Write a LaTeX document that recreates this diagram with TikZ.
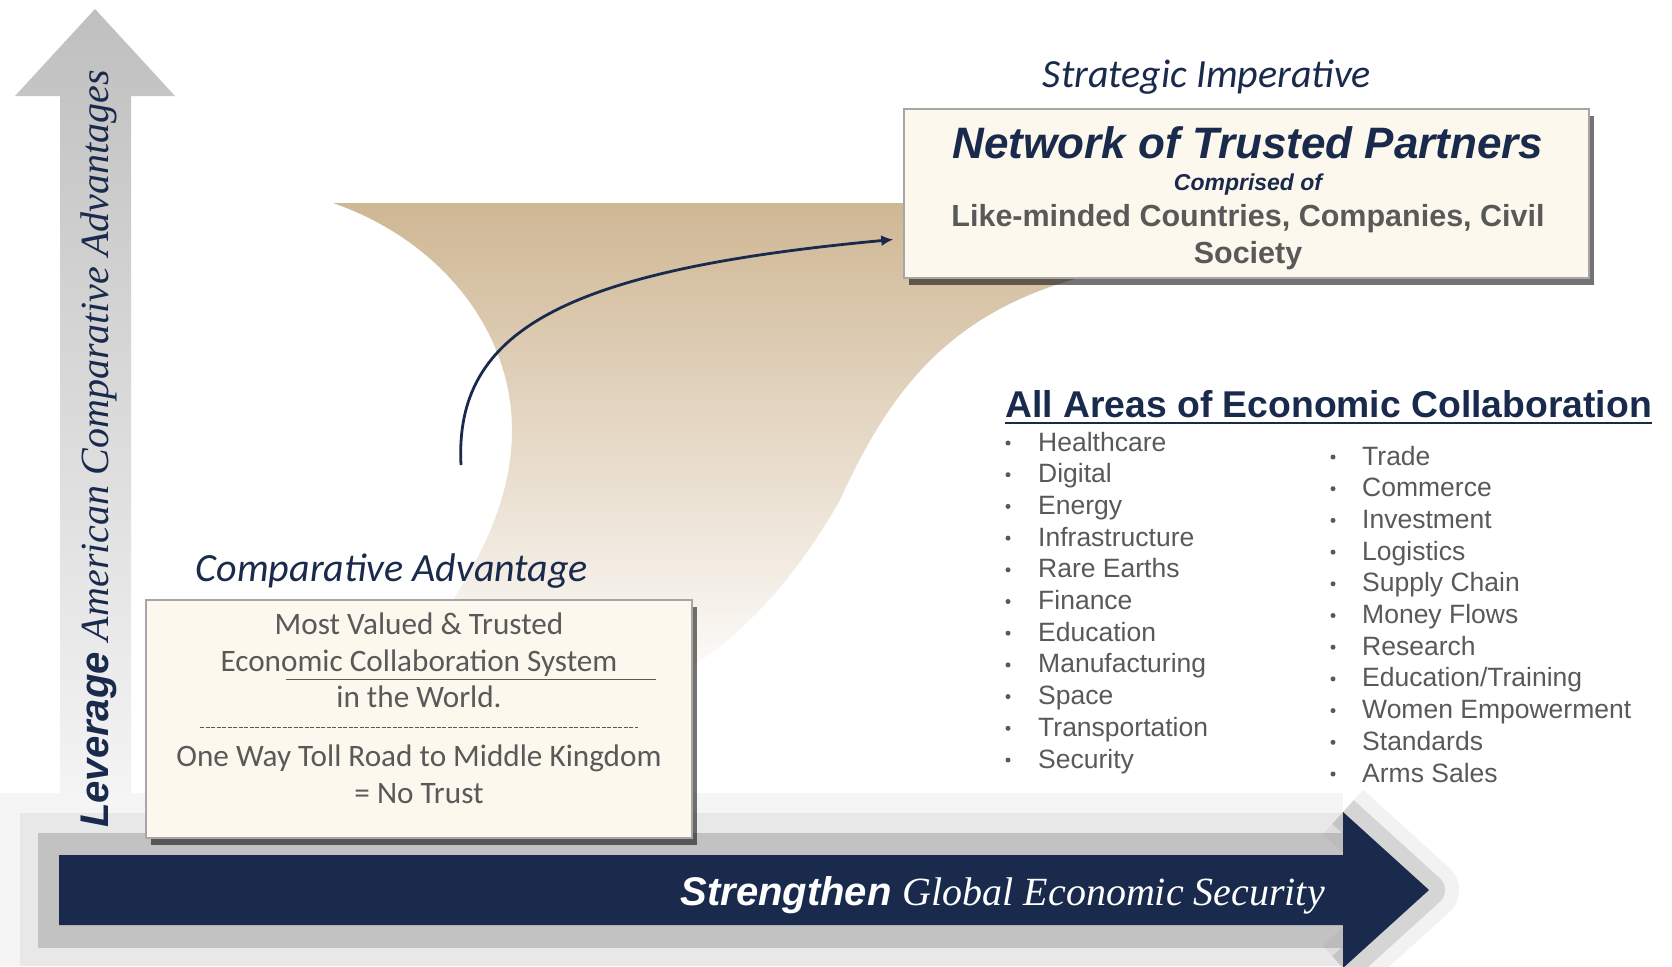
\documentclass[tikz,border=0pt]{standalone}
\usepackage{fontspec}
\setmainfont{Liberation Sans}
\newfontfamily\califont{Carlito}
\newfontfamily\timesfont{Liberation Serif}
\usetikzlibrary{arrows.meta,shadows}

\definecolor{navyblue}{RGB}{25,42,76}
\definecolor{textgray}{RGB}{89,89,89}
\definecolor{creamfill}{RGB}{252,248,237}
\definecolor{tanfill}{RGB}{207,183,148}

\tikzset{
	infobox/.style={draw=gray!70, line width=1.5pt, fill=creamfill, inner sep=0pt,
		drop shadow={shadow xshift=5pt, shadow yshift=-7pt, fill=black, opacity=0.55}},
	boxline/.style={font=\califont\fontsize{31.2}{36}\selectfont, text=textgray, anchor=base, inner sep=0pt},
	heading/.style={font=\califont\itshape\fontsize{40}{48}\selectfont, text=navyblue, anchor=base, inner sep=0pt},
	areaitem/.style={font=\fontsize{26.5}{30}\selectfont, text=textgray, anchor=base west, inner sep=0pt},
	bulletdot/.style={circle, fill=textgray, inner sep=0pt, minimum size=5pt},
}

\begin{document}
\begin{tikzpicture}[x=1pt,y=-1pt]
		\useasboundingbox (0,0) rectangle (1672,966);
		\clip (0,0) rectangle (1672,966);
		\fill[white] (0,0) rectangle (1672,966);
		% Vertical arrow
		\shade[top color=gray!50, bottom color=gray!6] (60,845) -- (60,96) -- (15,96) -- (95,9) -- (175,96) -- (131,96) -- (131,845) -- cycle;
		% Tan band
		\shade[top color=tanfill, middle color=tanfill!78!white, bottom color=white]
			(333,203) -- (1200,203) -- (1200,275) -- (1090,275)
			.. controls (950,310) and (890,390) .. (840,500)
			.. controls (800,570) and (750,630) .. (693,665)
			-- (600,700) -- (440,620)
			.. controls (480,560) and (512,500) .. (512,430)
			.. controls (512,330) and (440,240) .. (333,203) -- cycle;
		% Glow of horizontal arrow
		\fill[gray!8] (0,793) rectangle (1343,966);
		\fill[gray!18] (20,813) rectangle (1343,966);
		\fill[gray!48] (38,833) rectangle (1343,948);
		\foreach \glow/\op in {60/0.10, 32/0.25}
			\draw[gray, line width=\glow pt, opacity=\op, line join=round] (1343,812) -- (1429,890) -- (1343,968);
		% Horizontal arrow
		\fill[navyblue] (59,855) -- (1343,855) -- (1343,812) -- (1429,890) -- (1343,968) -- (1343,925) -- (59,925) -- cycle;
		\node[anchor=base east, inner sep=0pt, text=white] (strengthen) at (1325,905)
			{\fontsize{40}{48}\selectfont\bfseries\itshape Strengthen \timesfont\mdseries Global Economic Security};
		% Axis label
		\node[rotate=90, anchor=base west, inner sep=0pt, text=navyblue] (leverage) at (108,828)
			{\fontsize{40}{48}\selectfont\bfseries\itshape Leverage \timesfont\mdseries American Comparative Advantages};
		% Boxes
		\node[infobox, minimum width=685pt, minimum height=169pt] (ntp) at (1246.5,193.5) {};
		\node[infobox, minimum width=546pt, minimum height=238pt] (cabox) at (419,719) {};
		% Curved arrow
		\coordinate (arcstart) at (461,465);
		\draw[navyblue, line width=2.8pt, -{Latex[length=12pt,width=11pt]}]
			(arcstart) .. controls (454,330) and (565,270) .. ([shift={(-10,46)}]ntp.west);
		% Strategic imperative
		\node[heading] (strategic) at (1207,88) {Strategic Imperative};
		\node[anchor=base, inner sep=0pt, text=navyblue, font=\fontsize{44}{50}\selectfont\bfseries\itshape] (ntptitle) at (1248,158) {Network of Trusted Partners};
		\node[anchor=base, inner sep=0pt, text=navyblue, font=\fontsize{23}{26}\selectfont\bfseries\itshape] (comprised) at (1248,190) {Comprised of};
		\node[anchor=base, inner sep=0pt, text=textgray, font=\fontsize{30.5}{36}\selectfont\bfseries] (likeminded) at (1248,226) {Like-minded Countries, Companies, Civil};
		\node[anchor=base, inner sep=0pt, text=textgray, font=\fontsize{30.5}{36}\selectfont\bfseries] (society) at (1248,263) {Society};
		% Comparative advantage
		\node[heading] (compadv) at (392,581) {Comparative Advantage};
		\node[boxline] (mostvalued) at (419,634) {Most Valued \& Trusted};
		\node[boxline] (ecosystem) at (419,671) {Economic Collaboration System};
		\draw[textgray, line width=1pt] (286,679) -- (656,679);
		\node[boxline] (world) at (419,707) {in the World.};
		\draw[textgray, line width=0.8pt, dash pattern=on 4pt off 1.5pt] (200,727) -- (638,727);
		\node[boxline] (tollroad) at (419,766) {One Way Toll Road to Middle Kingdom};
		\node[boxline] (notrust) at (419,803) {= No Trust};
		% Areas of collaboration
		\node[anchor=base west, inner sep=0pt, text=navyblue, font=\fontsize{37.3}{40}\selectfont\bfseries] (areas) at (1005,417) {All Areas of Economic Collaboration};
		\draw[navyblue, line width=2.5pt] ([yshift=-6pt]areas.base west) -- ([yshift=-6pt]areas.base east);
		\foreach \area [count=\i] in {Healthcare,Digital,Energy,Infrastructure,Rare Earths,Finance,Education,Manufacturing,Space,Transportation,Security}{
			\node[bulletdot] (lbul\i) at (1008,{451+31.7*(\i-1)-8}) {};
			\node[areaitem] (larea\i) at (1038,{451+31.7*(\i-1)}) {\area};
		}
		\foreach \area [count=\i] in {Trade,Commerce,Investment,Logistics,Supply Chain,Money Flows,Research,Education/Training,Women Empowerment,Standards,Arms Sales}{
			\node[bulletdot] (rbul\i) at (1333,{465+31.7*(\i-1)-8}) {};
			\node[areaitem] (rarea\i) at (1362,{465+31.7*(\i-1)}) {\area};
		}
	\end{tikzpicture}
\end{document}
